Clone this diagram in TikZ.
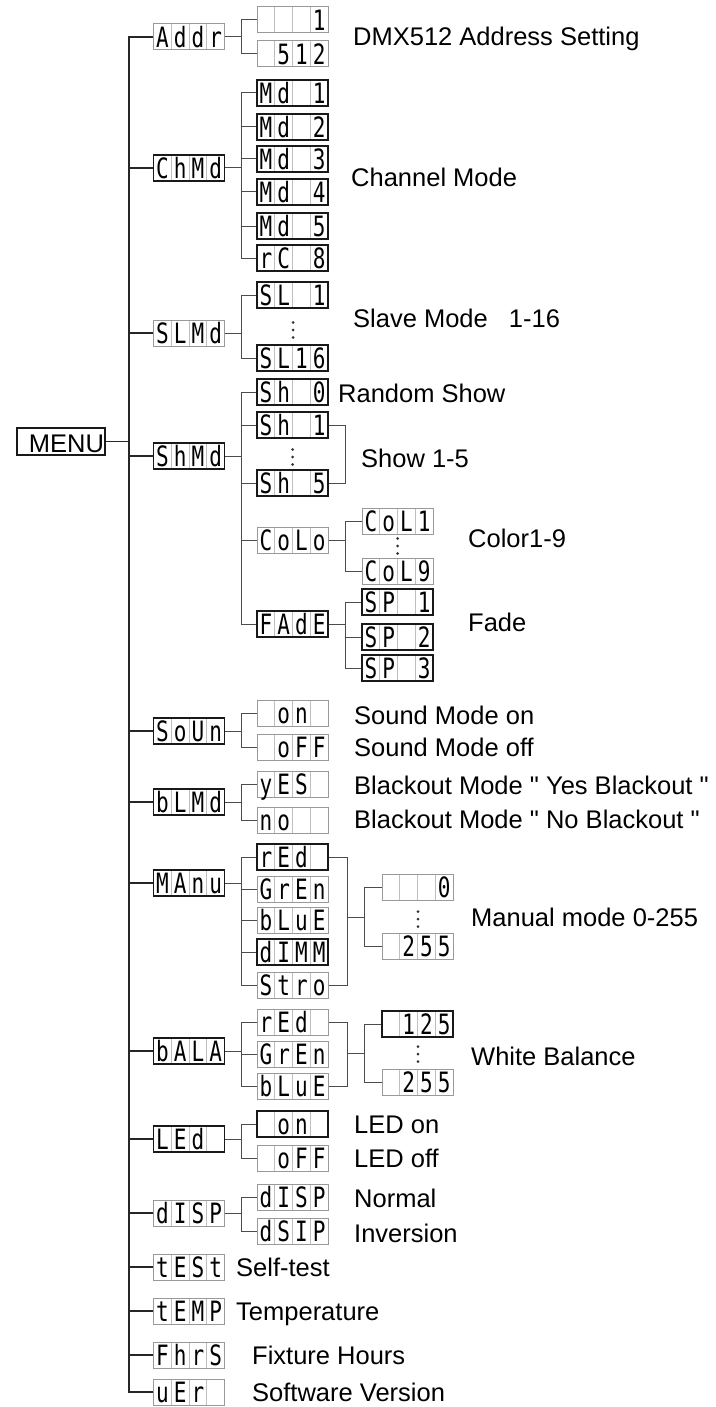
\documentclass[tikz,border=0pt]{standalone}
\usepackage{fontspec}
\setmainfont{Liberation Sans}[Ligatures=TeXOff]
\newfontfamily\lcdfont[FakeStretch=0.75]{DejaVu Sans Mono}
\usetikzlibrary{calc}
\newcommand\lcdcell[1]{\makebox[17.75pt][c]{#1}}
\newcommand\lcd[4]{\lcdcell{#1}\lcdcell{#2}\lcdcell{#3}\lcdcell{#4}}
\tikzset{
  lcdbase/.style={rectangle, minimum width=71pt, minimum height=26pt, inner sep=0pt,
    text height=20.5pt, text depth=0pt, fill=white,
    font=\lcdfont\fontsize{28}{28}\selectfont,
    path picture={\foreach \k in {1,2,3}{\draw[draw=black!25, line width=0.8pt]
      ($(path picture bounding box.south west)!\k/4!(path picture bounding box.south east)$) --
      ($(path picture bounding box.north west)!\k/4!(path picture bounding box.north east)$);}}},
  dk/.style={lcdbase, draw=black!90, line width=1.4pt},
  lt/.style={lcdbase, draw=black!40, line width=1pt},
  conn/.style={draw=black!70, line width=1pt},
  spine/.style={draw=black!85, line width=1.4pt},
  lbl/.style={anchor=base west, inner sep=0pt, font=\fontsize{25.5}{30}\selectfont},
  menubox/.style={draw=black!90, line width=1.4pt, minimum width=88pt, minimum height=27pt,
    inner sep=0pt, text height=22pt, text depth=0pt, font=\fontsize{25.5}{30}\selectfont},
  vdts/.pic={\foreach \d in {-7.5,0,7.5} \fill[black!80] (0,\d) circle (1.5pt);}
}
\begin{document}
\begin{tikzpicture}[x=1pt,y=-1pt]
\useasboundingbox (0,0) rectangle (715,1407);
\coordinate (sp) at (129,0);
\coordinate (b2) at (241,0);
\coordinate (b3) at (345,0);
\coordinate (bm) at (347,0);
\coordinate (b4) at (364,0);
% MENU
\node[menubox] (menu) at (61,441.5) {\makebox[86pt][r]{MENU}};
% level 1
\node[lt] (addr) at (189,37)   {\lcd{A}{d}{d}{r}};
\node[dk] (chmd) at (189,168)  {\lcd{C}{h}{M}{d}};
\node[lt] (slmd) at (189,333)  {\lcd{S}{L}{M}{d}};
\node[dk] (shmd) at (189,456)  {\lcd{S}{h}{M}{d}};
\node[dk] (soun) at (189,731)  {\lcd{S}{o}{U}{n}};
\node[dk] (blmd) at (189,802)  {\lcd{b}{L}{M}{d}};
\node[dk] (manu) at (189,883)  {\lcd{M}{A}{n}{u}};
\node[dk] (bala) at (189,1051) {\lcd{b}{A}{L}{A}};
\node[dk] (led)  at (189,1139) {\lcd{L}{E}{d}{}};
\node[lt] (disp) at (189,1213) {\lcd{d}{I}{S}{P}};
\node[lt] (test) at (189,1267) {\lcd{t}{E}{S}{t}};
\node[lt] (temp) at (189,1311) {\lcd{t}{E}{M}{P}};
\node[lt] (fhrs) at (189,1355) {\lcd{F}{h}{r}{S}};
\node[lt] (ver)  at (189,1392) {\lcd{u}{E}{r}{}};
% level 2
\node[lt] (a1)   at (292.5,20)  {\lcd{}{}{}{1}};
\node[lt] (a512) at (292.5,54)  {\lcd{}{5}{1}{2}};
\node[dk] (md1) at (292.5,93)  {\lcd{M}{d}{}{1}};
\node[dk] (md2) at (292.5,127) {\lcd{M}{d}{}{2}};
\node[dk] (md3) at (292.5,159) {\lcd{M}{d}{}{3}};
\node[dk] (md4) at (292.5,192) {\lcd{M}{d}{}{4}};
\node[dk] (md5) at (292.5,226) {\lcd{M}{d}{}{5}};
\node[dk] (rc8) at (292.5,258) {\lcd{r}{C}{}{8}};
\node[dk] (sl1)  at (292.5,295) {\lcd{S}{L}{}{1}};
\node[dk] (sl16) at (292.5,358) {\lcd{S}{L}{1}{6}};
\node[dk] (sh0) at (292.5,392) {\lcd{S}{h}{}{0}};
\node[dk] (sh1) at (292.5,425) {\lcd{S}{h}{}{1}};
\node[dk] (sh5) at (292.5,483) {\lcd{S}{h}{}{5}};
\node[lt] (colo) at (292.5,540) {\lcd{C}{o}{L}{o}};
\node[dk] (fade) at (292.5,624) {\lcd{F}{A}{d}{E}};
\node[lt] (on1)  at (292.5,713) {\lcd{}{o}{n}{}};
\node[lt] (off1) at (292.5,747) {\lcd{}{o}{F}{F}};
\node[lt] (yes)  at (292.5,784) {\lcd{y}{E}{S}{}};
\node[lt] (no)   at (292.5,820) {\lcd{n}{o}{}{}};
\node[dk] (mred) at (292.5,857) {\lcd{r}{E}{d}{}};
\node[lt] (mgrn) at (292.5,889) {\lcd{G}{r}{E}{n}};
\node[lt] (mblu) at (292.5,920) {\lcd{b}{L}{u}{E}};
\node[dk] (mdim) at (292.5,952) {\lcd{d}{I}{M}{M}};
\node[lt] (mstr) at (292.5,985) {\lcd{S}{t}{r}{o}};
\node[lt] (bred) at (292.5,1022) {\lcd{r}{E}{d}{}};
\node[lt] (bgrn) at (292.5,1054) {\lcd{G}{r}{E}{n}};
\node[lt] (bblu) at (292.5,1086) {\lcd{b}{L}{u}{E}};
\node[dk] (on2)  at (292.5,1124) {\lcd{}{o}{n}{}};
\node[lt] (off2) at (292.5,1158) {\lcd{}{o}{F}{F}};
\node[lt] (dsp1) at (292.5,1197) {\lcd{d}{I}{S}{P}};
\node[lt] (dsp2) at (292.5,1231) {\lcd{d}{S}{I}{P}};
% level 3
\node[lt] (col1) at (397.5,521) {\lcd{C}{o}{L}{1}};
\node[lt] (col9) at (397.5,571) {\lcd{C}{o}{L}{9}};
\node[dk] (sp1) at (397.5,602) {\lcd{S}{P}{}{1}};
\node[dk] (sp2) at (397.5,637) {\lcd{S}{P}{}{2}};
\node[dk] (sp3) at (397.5,668) {\lcd{S}{P}{}{3}};
\node[lt] (v0)   at (417.5,887)  {\lcd{}{}{}{0}};
\node[lt] (v255) at (417.5,946)  {\lcd{}{2}{5}{5}};
\node[dk] (w125) at (417.5,1024) {\lcd{}{1}{2}{5}};
\node[lt] (w255) at (417.5,1082) {\lcd{}{2}{5}{5}};
% spine
\draw[spine] (menu.east) -- (menu.east -| sp);
\foreach \n in {addr,chmd,slmd,shmd,soun,blmd,manu,bala,led,disp,test,temp,fhrs,ver}
  \draw[spine] (menu.east -| sp) |- (\n.west);
% level-2 branches
\foreach \p/\cl in {addr/{a1,a512}, chmd/{md1,md2,md3,md4,md5,rc8}, slmd/{sl1,sl16},
   shmd/{sh0,sh1,sh5,colo,fade}, soun/{on1,off1}, blmd/{yes,no},
   manu/{mred,mgrn,mblu,mdim,mstr}, bala/{bred,bgrn,bblu}, led/{on2,off2}, disp/{dsp1,dsp2}}
  \foreach \c in \cl
    \draw[conn] (\p.east) -- (\p.east -| b2) |- (\c.west);
% level-3 branches
\foreach \c in {col1,col9} \draw[conn] (colo.east) -- (colo.east -| b3) |- (\c.west);
\foreach \c in {sp1,sp2,sp3} \draw[conn] (fade.east) -- (fade.east -| b3) |- (\c.west);
% show bracket
\draw[conn] (sh1.east) -- (sh1.east -| b3) |- (sh5.east);
% manual bracket
\coordinate (mj) at (347,917);
\draw[conn] (mred.east) -| (mj);
\draw[conn] (mstr.east) -| (mj);
\foreach \c in {v0,v255} \draw[conn] (mj) -- (mj -| b4) |- (\c.west);
% white balance bracket
\coordinate (wj) at (347,1053);
\draw[conn] (bred.east) -| (wj);
\draw[conn] (bblu.east) -| (wj);
\foreach \c in {w125,w255} \draw[conn] (wj) -- (wj -| b4) |- (\c.west);
% vertical dots
\pic at (293,330) {vdts};
\pic at (292.5,457) {vdts};
\pic at (397.5,546) {vdts};
\pic at (418,919) {vdts};
\pic at (418,1054) {vdts};
% labels
\node[lbl] (t1) at (353,46) {DMX512 Address Setting};
\node[lbl] (t2) at (351,186) {Channel Mode};
\node[lbl] (t3) at (353,327) {Slave Mode\hspace{14pt} 1-16};
\node[lbl] (t4) at (338,402) {Random Show};
\node[lbl] (t5) at (361,467) {Show 1-5};
\node[lbl] (t6) at (468,547) {Color1-9};
\node[lbl] (t7) at (468,631) {Fade};
\node[lbl] (t8) at (354,724) {Sound Mode on};
\node[lbl] (t9) at (354,756) {Sound Mode off};
\node[lbl] (t10) at (354,794) {Blackout Mode " Yes Blackout "};
\node[lbl] (t11) at (354,828) {Blackout Mode " No Blackout "};
\node[lbl] (t12) at (471,926) {Manual mode 0-255};
\node[lbl] (t13) at (471,1065) {White Balance};
\node[lbl] (t14) at (354,1133) {LED on};
\node[lbl] (t15) at (354,1167) {LED off};
\node[lbl] (t16) at (354,1207) {Normal};
\node[lbl] (t17) at (354,1242) {Inversion};
\node[lbl] (t18) at (236,1276) {Self-test};
\node[lbl] (t19) at (236,1320) {Temperature};
\node[lbl] (t20) at (252,1364) {Fixture Hours};
\node[lbl] (t21) at (252,1401) {Software Version};
\end{tikzpicture}
\end{document}
